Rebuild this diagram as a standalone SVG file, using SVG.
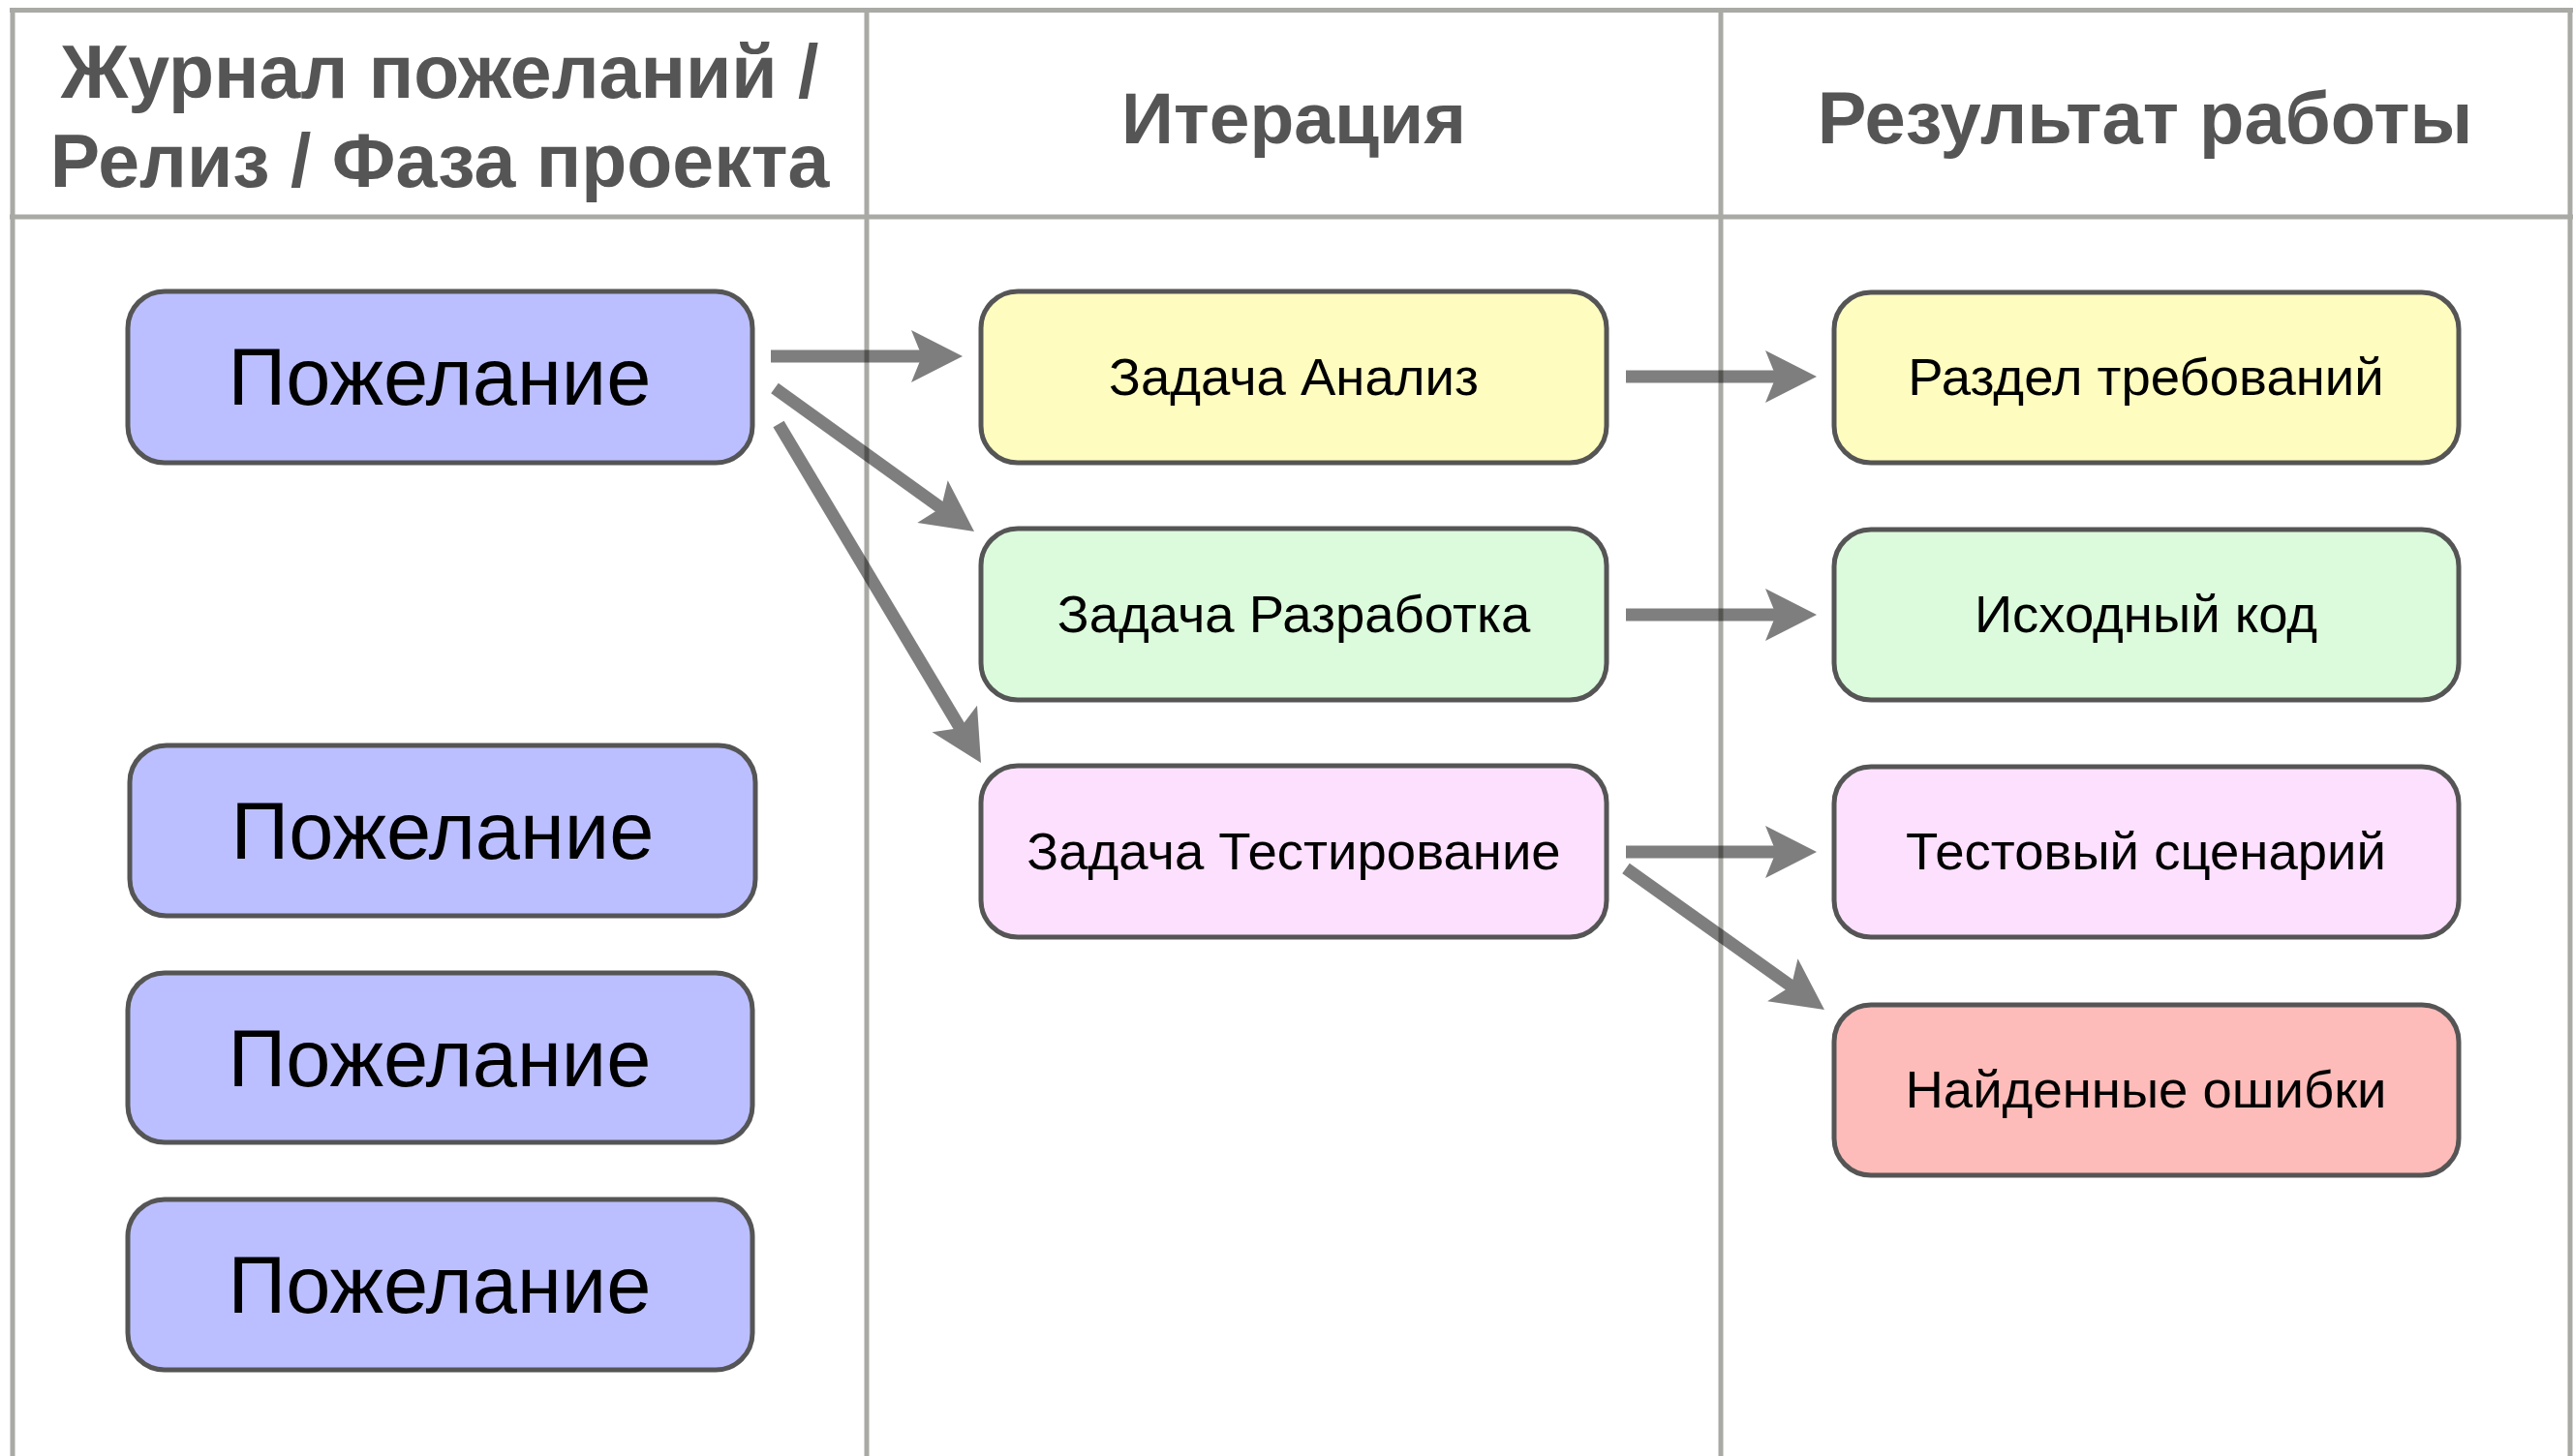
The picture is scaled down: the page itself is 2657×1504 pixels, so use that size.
<svg xmlns="http://www.w3.org/2000/svg" width="2657" height="1504" viewBox="0 0 2657 1504">
<style>
.grid{stroke:#a9a9a5;stroke-width:5;fill:none}
.hdr{font-family:"Liberation Sans",Arial,sans-serif;font-weight:bold;fill:#555555;text-anchor:middle}
.box{stroke:#555555;stroke-width:5}
.big{font-family:"Liberation Sans",Arial,sans-serif;font-size:83px;fill:#000;text-anchor:middle}
.lbl{font-family:"Liberation Sans",Arial,sans-serif;font-size:54.5px;fill:#000;text-anchor:middle}
.arr{stroke:#000;stroke-width:13;fill:none}
.head{fill:#000;stroke:none}
</style>
<rect x="0" y="0" width="2657" height="1504" fill="#ffffff"/>
<g id="grid">
<line class="grid" x1="10" y1="10.5" x2="2657" y2="10.5"/>
<line class="grid" x1="10" y1="224" x2="2657" y2="224"/>
<line class="grid" x1="13" y1="8" x2="13" y2="1504"/>
<line class="grid" x1="895" y1="8" x2="895" y2="1504"/>
<line class="grid" x1="1777" y1="8" x2="1777" y2="1504"/>
<line class="grid" x1="2654" y1="8" x2="2654" y2="1504"/>
</g>
<g id="headers">
<text class="hdr" x="454" y="101" font-size="77">Журнал пожеланий /</text>
<text class="hdr" x="454" y="193" font-size="77">Релиз / Фаза проекта</text>
<text class="hdr" x="1336" y="148" font-size="75">Итерация</text>
<text class="hdr" x="2215" y="148" font-size="76">Результат работы</text>
</g>
<g id="wish1"><rect class="box" x="132" y="301" width="645" height="177" rx="38" fill="#bbbfff"/><text class="big" x="454" y="418">Пожелание</text></g>
<g id="wish2"><rect class="box" x="134" y="770" width="646" height="176" rx="38" fill="#bbbfff"/><text class="big" x="457" y="887">Пожелание</text></g>
<g id="wish3"><rect class="box" x="132" y="1005" width="645" height="175" rx="38" fill="#bbbfff"/><text class="big" x="454" y="1122">Пожелание</text></g>
<g id="wish4"><rect class="box" x="132" y="1239" width="645" height="176" rx="38" fill="#bbbfff"/><text class="big" x="454" y="1356">Пожелание</text></g>
<g id="taskAnalysis"><rect class="box" x="1013" y="301" width="646" height="177" rx="38" fill="#fefcbf"/><text class="lbl" x="1336" y="408">Задача Анализ</text></g>
<g id="taskDev"><rect class="box" x="1013" y="546" width="646" height="177" rx="38" fill="#dcfadc"/><text class="lbl" x="1336" y="653">Задача Разработка</text></g>
<g id="taskTest"><rect class="box" x="1013" y="791" width="646" height="177" rx="38" fill="#fde0fe"/><text class="lbl" x="1336" y="898">Задача Тестирование</text></g>
<g id="reqSection"><rect class="box" x="1894" y="302" width="645" height="176" rx="38" fill="#fefcbf"/><text class="lbl" x="2216" y="408">Раздел требований</text></g>
<g id="sourceCode"><rect class="box" x="1894" y="547" width="645" height="176" rx="38" fill="#dcfadc"/><text class="lbl" x="2216" y="653">Исходный код</text></g>
<g id="testScenario"><rect class="box" x="1894" y="792" width="645" height="176" rx="38" fill="#fde0fe"/><text class="lbl" x="2216" y="898">Тестовый сценарий</text></g>
<g id="bugsFound"><rect class="box" x="1894" y="1038" width="645" height="176" rx="38" fill="#fdbcb9"/><text class="lbl" x="2216" y="1144">Найденные ошибки</text></g>
<g id="connectors" opacity="0.5">
<g><path class="arr" d="M796,368 L956,368"/><polygon class="head" points="994,368 941,341 952,368 941,395"/></g>
<g><path class="arr" d="M800,401 L975,527"/><polygon class="head" points="1006,549 978.7,496.2 971.9,524.5 947.3,540"/></g>
<g><path class="arr" d="M804,438 L993.5,755.3"/><polygon class="head" points="1013,788 1009,728.7 991.5,751.9 962.6,756.3"/></g>
<g><path class="arr" d="M1679,389 L1838,389"/><polygon class="head" points="1876,389 1823,362 1834,389 1823,416"/></g>
<g><path class="arr" d="M1679,635 L1838,635"/><polygon class="head" points="1876,635 1823,608 1834,635 1823,662"/></g>
<g><path class="arr" d="M1679,880 L1838,880"/><polygon class="head" points="1876,880 1823,853 1834,880 1823,907"/></g>
<g><path class="arr" d="M1679,897 L1853,1021"/><polygon class="head" points="1884,1043 1856.5,990.3 1849.8,1018.6 1825.1,1034.3"/></g>
</g>
</svg>
